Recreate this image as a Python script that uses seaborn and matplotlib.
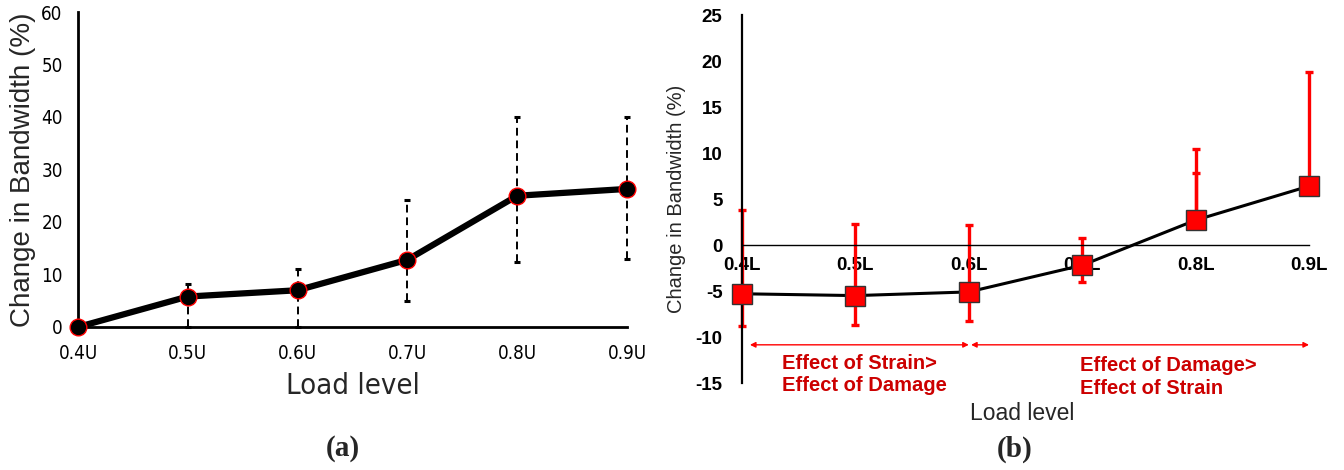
import numpy as np
import pandas as pd
import matplotlib
matplotlib.use("Agg")
import matplotlib.pyplot as plt
import seaborn as sns

# ---------------- data ----------------
a_levels = ["0.4U", "0.5U", "0.6U", "0.7U", "0.8U", "0.9U"]
a_change = [0.0, 5.8, 7.0, 12.8, 25.0, 26.3]
a_upper = [0.0, 8.1, 11.0, 24.1, 40.0, 40.0]
a_lower = [0.0, 0.0, 0.0, 5.0, 12.3, 13.0]

b_levels = ["0.4L", "0.5L", "0.6L", "0.7L", "0.8L", "0.9L"]
b_change = [-5.3, -5.5, -5.1, -2.2, 2.7, 6.4]
b_upper = [3.8, 2.3, 2.2, 0.8, 10.4, 18.8]
b_lower = [-8.8, -8.7, -8.3, -4.0, 2.7, 6.4]
b_inner_upper = [np.nan, np.nan, np.nan, np.nan, 7.8, np.nan]

a_yticks = [0, 10, 20, 30, 40, 50, 60]
b_yticks = [-15, -10, -5, 0, 5, 10, 15, 20, 25]

left_note = "Effect of Strain>\nEffect of Damage"
right_note = "Effect of Damage>\nEffect of Strain"

# ---------------- style ----------------
sns.set_style("white")
plt.rcParams["font.family"] = ["Liberation Sans", "DejaVu Sans"]
narrow = dict(family="DejaVu Sans", stretch="condensed")

df_a = pd.DataFrame({"pos": np.arange(len(a_levels)), "change": a_change,
                     "upper": a_upper, "lower": a_lower})
df_b = pd.DataFrame({"pos": np.arange(len(b_levels)), "change": b_change,
                     "upper": b_upper, "lower": b_lower, "inner": b_inner_upper})

W, H = 1344, 470
fig = plt.figure(figsize=(W / 100, H / 100), dpi=100)
fig.patch.set_facecolor("white")

# ---------------- panel (a) ----------------
axa = fig.add_axes([78 / W, 1 - 327 / H, 549 / W, (327 - 12) / H])
eb = axa.errorbar(df_a["pos"], df_a["change"],
                  yerr=[df_a["change"] - df_a["lower"], df_a["upper"] - df_a["change"]],
                  fmt="none", ecolor="black", elinewidth=1.4, capsize=2.2, capthick=2.2,
                  zorder=2, clip_on=False)
for lc in eb[2]:
    lc.set_linestyle((0, (4, 2.5)))
sns.lineplot(data=df_a, x="pos", y="change", ax=axa, color="black", lw=4.5,
             marker="o", markersize=12, markerfacecolor="black",
             markeredgecolor="red", markeredgewidth=1.0, zorder=4, clip_on=False)
axa.set_xlim(0, 5)
axa.set_ylim(0, 60)
for s in ["top", "right"]:
    axa.spines[s].set_visible(False)
for s in ["left", "bottom"]:
    axa.spines[s].set_linewidth(2.0)
    axa.spines[s].set_color("black")
axa.set_xticks(df_a["pos"])
axa.set_xticklabels(a_levels, fontsize=13.5, **narrow)
axa.set_yticks(a_yticks)
axa.set_yticklabels([str(t) for t in a_yticks], fontsize=13.5, **narrow)
axa.tick_params(axis="y", direction="out", length=4, width=1.2, pad=7, colors="black")
axa.tick_params(axis="x", direction="out", length=4, width=1.2, pad=8, colors="black")
axa.set_ylabel("Change in Bandwidth (%)", fontsize=20, labelpad=4)
axa.set_xlabel("Load level", fontsize=21, labelpad=7, **narrow)
axa.set_facecolor("white")

# ---------------- panel (b) ----------------
axb = fig.add_axes([742 / W, 1 - 383 / H, 567 / W, (383 - 15) / H])
axb.spines["bottom"].set_position(("data", 0))
for s in ["top", "right"]:
    axb.spines[s].set_visible(False)
axb.spines["left"].set_linewidth(1.6)
axb.spines["bottom"].set_linewidth(1.0)
for s in ["left", "bottom"]:
    axb.spines[s].set_color("black")
axb.errorbar(df_b["pos"], df_b["change"],
             yerr=[df_b["change"] - df_b["lower"], df_b["upper"] - df_b["change"]],
             fmt="none", ecolor="red", elinewidth=2.4, capsize=2.9, capthick=2.4,
             zorder=2, clip_on=False)
inner = df_b.dropna(subset=["inner"])
axb.errorbar(inner["pos"], inner["change"],
             yerr=[np.zeros(len(inner)), inner["inner"] - inner["change"]],
             fmt="none", ecolor="red", elinewidth=2.4, capsize=2.9, capthick=2.4,
             zorder=2, clip_on=False)
sns.lineplot(data=df_b, x="pos", y="change", ax=axb, color="black", lw=2.2,
             marker="s", markersize=15, markerfacecolor="red",
             markeredgecolor="#333333", markeredgewidth=1.0, zorder=4, clip_on=False)
axb.set_xlim(0, 5)
axb.set_ylim(-15, 25)
axb.set_xticks(df_b["pos"])
axb.set_xticklabels(b_levels, fontsize=13.5, fontweight="bold")
axb.set_yticks(b_yticks)
axb.set_yticklabels([str(t) for t in b_yticks], fontsize=13.5, fontweight="bold")
axb.tick_params(axis="y", direction="out", length=5, width=1.0, pad=9, colors="black")
axb.tick_params(axis="x", direction="out", length=4, width=1.0, pad=5, colors="black")
axb.set_ylabel("Change in Bandwidth (%)", fontsize=14.5, labelpad=7)
axb.set_xlabel("")
axb.set_facecolor("white")

arrow_kw = dict(arrowstyle="<|-|>", color="red", lw=1.0, mutation_scale=8,
                shrinkA=0, shrinkB=0)
axb.annotate("", xy=(0.07, -10.85), xytext=(2.0, -10.85), arrowprops=arrow_kw,
             annotation_clip=False)
axb.annotate("", xy=(2.02, -10.85), xytext=(5.0, -10.85), arrowprops=arrow_kw,
             annotation_clip=False)
note_color = "#cc0000"
axb.text(0.35, -11.8, left_note, color=note_color, fontsize=14.5, fontweight="bold",
         va="top", ha="left", linespacing=1.25)
axb.text(2.98, -12.05, right_note, color=note_color, fontsize=14.5, fontweight="bold",
         va="top", ha="left", linespacing=1.25)

fig.text(1022 / W, 1 - 413 / H, "Load level", fontsize=16.5, ha="center", va="center")

# ---------------- captions ----------------
cap_kw = dict(fontsize=21, fontweight="bold", family=["Liberation Serif", "DejaVu Serif"],
              ha="center", va="center")
fig.text(343 / W, 1 - 449 / H, "(a)", **cap_kw)
fig.text(1015 / W, 1 - 449 / H, "(b)", **cap_kw)

fig.savefig("out.png", dpi=100, facecolor="white")
